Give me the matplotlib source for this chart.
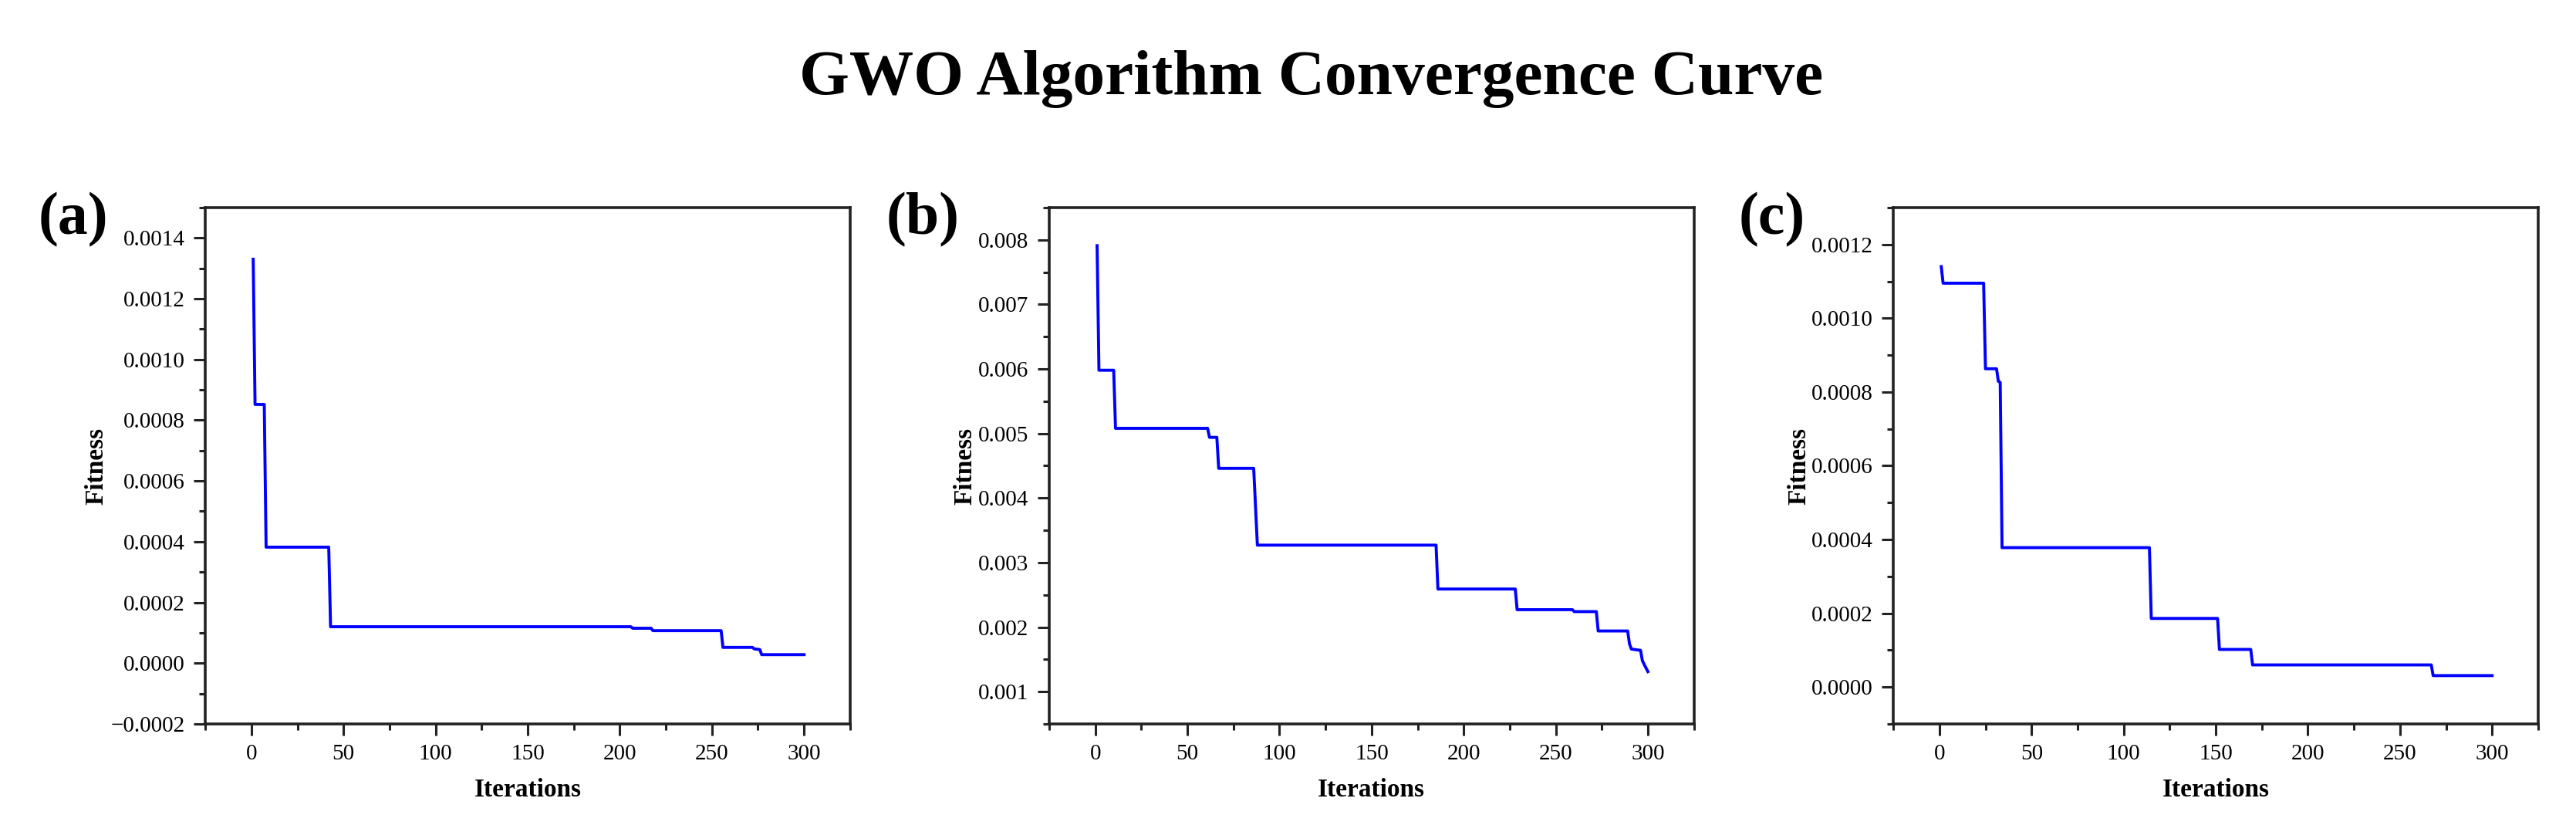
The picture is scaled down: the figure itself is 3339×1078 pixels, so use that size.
import matplotlib
matplotlib.use('Agg')
import matplotlib.pyplot as plt
from matplotlib.ticker import MultipleLocator, AutoMinorLocator, FuncFormatter

plt.rcParams['font.family'] = ['Liberation Serif', 'DejaVu Serif']

# iteration at each breakpoint and best fitness there
iters_a = [1, 2, 7, 8, 42, 43, 206, 207, 217, 218, 255, 256, 272, 273, 276, 277, 300]
fitness_a = [0.00133, 0.000852, 0.000852, 0.000382, 0.000382, 0.000120, 0.000120, 0.000115,
             0.000115, 0.000107, 0.000107, 0.000052, 0.000052, 0.000047, 0.000045, 0.000028, 0.000028]

iters_b = [1, 2, 10, 11, 61, 62, 66, 67, 86, 88, 185, 186, 228, 229, 259, 260, 272, 273,
           289, 290, 291, 296, 297, 298, 300]
fitness_b = [0.00791, 0.00598, 0.00598, 0.00508, 0.00508, 0.00494, 0.00494, 0.00446, 0.00446,
             0.00327, 0.00327, 0.00259, 0.00259, 0.00227, 0.00227, 0.00224, 0.00224, 0.00194,
             0.00194, 0.00174, 0.00166, 0.00164, 0.00148, 0.00142, 0.00131]

iters_c = [1, 2, 24, 25, 31, 32, 33, 34, 114, 115, 151, 152, 169, 170, 267, 268, 300]
fitness_c = [0.00114, 0.001095, 0.001095, 0.000863, 0.000863, 0.000829, 0.000826, 0.000378,
             0.000378, 0.000186, 0.000186, 0.000102, 0.000102, 0.000060, 0.000060, 0.000031, 0.000031]

panel_names = ['(a)', '(b)', '(c)']
y_limits = [(-0.0002, 0.0015), (0.0005, 0.0085), (-0.0001, 0.0013)]
y_steps = [0.0002, 0.001, 0.0002]
y_decimals = [4, 3, 4]

fig = plt.figure(figsize=(33.39, 10.78), dpi=100)

lefts = [0.0797, 0.4073, 0.7350]
label_x = [-0.150, -0.112, -0.128]
panel_x = [0.015, 0.344, 0.675]
data = [(iters_a, fitness_a), (iters_b, fitness_b), (iters_c, fitness_c)]

for i in range(3):
    ax = fig.add_axes([lefts[i], 0.1299, 0.2503, 0.6206])
    x, y = data[i]
    ax.plot(x, y, color='#0000ff', linewidth=2.8)

    ax.set_xlim(-25, 325)
    ax.set_ylim(*y_limits[i])
    ax.xaxis.set_major_locator(MultipleLocator(50))
    ax.xaxis.set_minor_locator(AutoMinorLocator(2))
    ax.yaxis.set_major_locator(MultipleLocator(y_steps[i]))
    ax.yaxis.set_minor_locator(AutoMinorLocator(2))

    d = y_decimals[i]
    ax.yaxis.set_major_formatter(FuncFormatter(
        lambda v, p, d=d: ('%.*f' % (d, v)).replace('-', '\u2212') if abs(v) > 1e-12 else '%.*f' % (d, 0)))

    ax.tick_params(which='both', direction='out', top=False, right=False, width=2.2,
                   labelsize=21, color='#222222')
    ax.tick_params(which='major', length=11, pad=8)
    ax.tick_params(which='minor', length=6)
    for s in ax.spines.values():
        s.set_linewidth(2.6)
        s.set_color('#222222')

    ax.set_xlabel('Iterations', fontsize=24, fontweight='bold')
    ax.set_ylabel('Fitness', fontsize=24, fontweight='bold')
    ax.xaxis.set_label_coords(0.5, -0.105)
    ax.yaxis.set_label_coords(label_x[i], 0.5)

    fig.text(panel_x[i], 0.7356, panel_names[i], fontsize=56, fontweight='bold',
             ha='left', va='center')

fig.text(0.509, 0.887, 'GWO Algorithm Convergence Curve', fontsize=60, fontweight='bold',
         ha='center', va='baseline')

fig.savefig('out.png', dpi=100)
